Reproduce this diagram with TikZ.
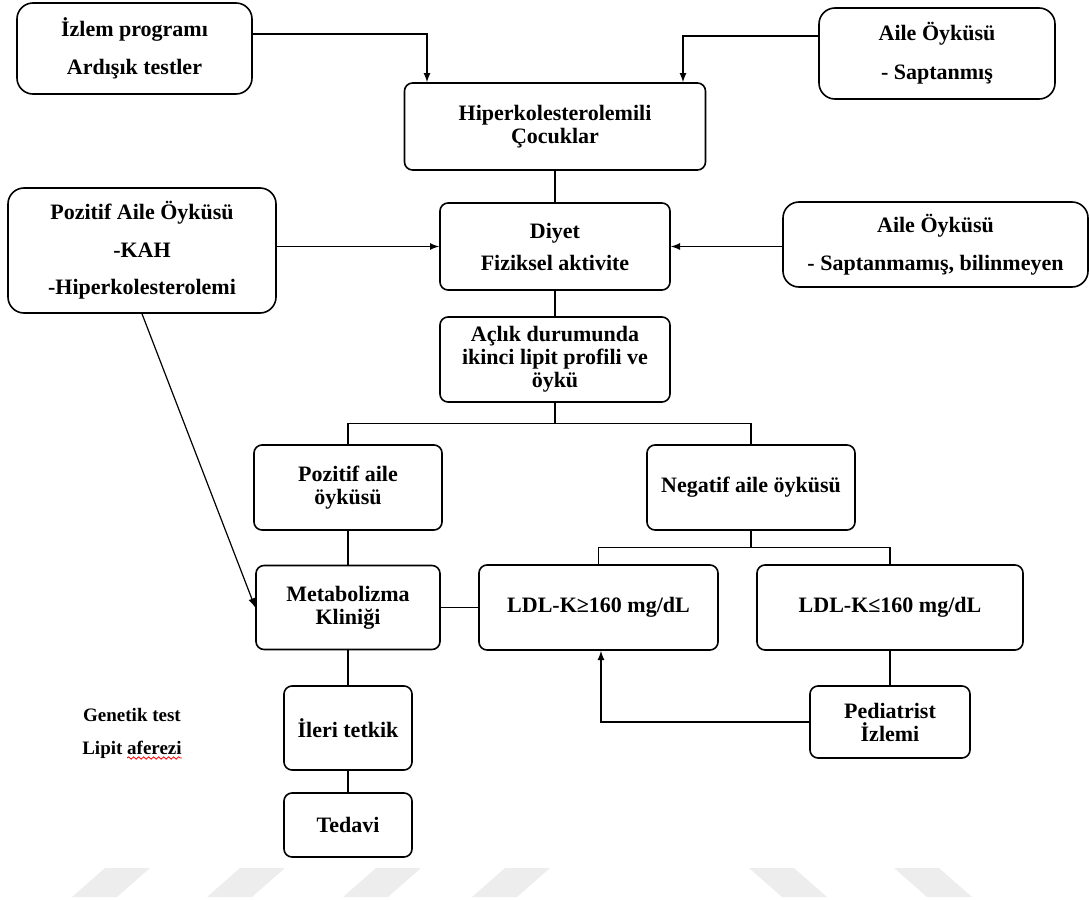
\documentclass[tikz,border=0pt]{standalone}
\usepackage{fontspec}
\setmainfont{Liberation Serif}
\usetikzlibrary{decorations.pathmorphing}
\begin{document}
\begin{tikzpicture}[x=0.5pt,y=-0.5pt,
  box/.style={draw=black,line width=0.8pt,rounded corners=4pt,inner sep=0pt,align=center,font=\fontsize{11}{11.5}\selectfont\bfseries},
  sidebox/.style={box,rounded corners=8pt},
  link/.style={black,line width=0.6pt},
  wmark/.style={fill=black!7,draw=none}]
\useasboundingbox (0,0) rectangle (1089,900);
\foreach \x in {72,207,343,472}
  \fill [wmark] (\x,897) -- (\x+45,897) -- (\x+78,868) -- (\x+33,868) -- cycle;
\foreach \x in {749,894}
  \fill [wmark] (\x,868) -- (\x+45,868) -- (\x+78,897) -- (\x+33,897) -- cycle;
\node [sidebox,minimum width=117.5pt,minimum height=45.5pt] (izlem) at (134.5,48.5) {İzlem programı\\[7.5pt]Ardışık testler};
\node [box,minimum width=150.5pt,minimum height=43.5pt] (hiper) at (555,126.5) {Hiperkolesterolemili\\Çocuklar};
\node [sidebox,minimum width=118pt,minimum height=45.5pt] (saptanmis) at (937,53.5) {Aile Öyküsü\\[8pt]- Saptanmış};
\node [sidebox,minimum width=134pt,minimum height=62.5pt] (pozaile) at (142,250.5) {Pozitif Aile Öyküsü\\[7.25pt]-KAH\\[7.25pt]-Hiperkolesterolemi};
\node [box,minimum width=115pt,minimum height=43.5pt] (diyet) at (555,246.5) {Diyet\\[4.5pt]Fiziksel aktivite};
\node [sidebox,minimum width=152.5pt,minimum height=42.5pt] (saptanmamis) at (935.5,244.5) {Aile Öyküsü\\[7.5pt]- Saptanmamış, bilinmeyen};
\node [box,minimum width=115pt,minimum height=42.5pt] (aclik) at (555,359.5) {Açlık durumunda\\ikinci lipit profili ve\\öykü};
\node [box,minimum width=94pt,minimum height=42.5pt] (pozitif) at (348,487.5) {Pozitif aile\\öyküsü};
\node [box,minimum width=104pt,minimum height=42.5pt] (negatif) at (751,487.5) {Negatif aile öyküsü};
\node [box,minimum width=92pt,minimum height=42pt] (metab) at (348,607.5) {Metabolizma\\Kliniği};
\node [box,minimum width=119.5pt,minimum height=42.5pt] (ldlb) at (598.5,607.5) {LDL-K≥160 mg/dL};
\node [box,minimum width=133pt,minimum height=42.5pt] (ldlk) at (890,607.5) {LDL-K≤160 mg/dL};
\node [box,minimum width=64pt,minimum height=42pt] (ileri) at (348,728) {İleri tetkik};
\node [box,minimum width=64pt,minimum height=32pt] (tedavi) at (348,825) {Tedavi};
\node [box,minimum width=80pt,minimum height=36pt] (pediatrist) at (890,722) {Pediatrist\\İzlemi};
\node [font=\fontsize{9.5}{11}\selectfont\bfseries] (genetik) at (132,715) {Genetik test};
\node [font=\fontsize{9.5}{11}\selectfont\bfseries] (lipit) at (132,750) {Lipit aferezi};
\draw [red,line width=0.4pt,decorate,decoration={snake,amplitude=0.6pt,segment length=2.5pt}] (127,758) -- (182,758);
\draw [link,-latex] ([yshift=7.25pt]izlem.east) -| ([xshift=-64pt]hiper.north);
\draw [link,-latex] ([yshift=8.75pt]saptanmis.west) -| ([xshift=64pt]hiper.north);
\draw [link] (hiper.south) -- (diyet.north);
\draw [link,-latex] (pozaile.east |- diyet.west) -- (diyet.west);
\draw [link,-latex] (saptanmamis.west |- diyet.east) -- (diyet.east);
\draw [link] (diyet.south) -- (aclik.north);
\draw [link] (aclik.south) -- ++(0,21) coordinate (split1);
\draw [link] (split1) -| (pozitif.north);
\draw [link] (split1) -| (negatif.north);
\draw [link] (negatif.south) -- ++(0,17) coordinate (split2);
\draw [link] (split2) -| (ldlb.north);
\draw [link] (split2) -| (ldlk.north);
\draw [link,-latex] (pozaile.south) -- (metab.west);
\draw [link] (pozitif.south) -- (metab.north);
\draw [link] (metab.east) -- (ldlb.west);
\draw [link] (metab.south) -- (ileri.north);
\draw [link] (ileri.south) -- (tedavi.north);
\draw [link] (ldlk.south) -- (pediatrist.north);
\draw [link,-latex] (pediatrist.west) -| ([xshift=1.25pt]ldlb.south);
\end{tikzpicture}
\end{document}
